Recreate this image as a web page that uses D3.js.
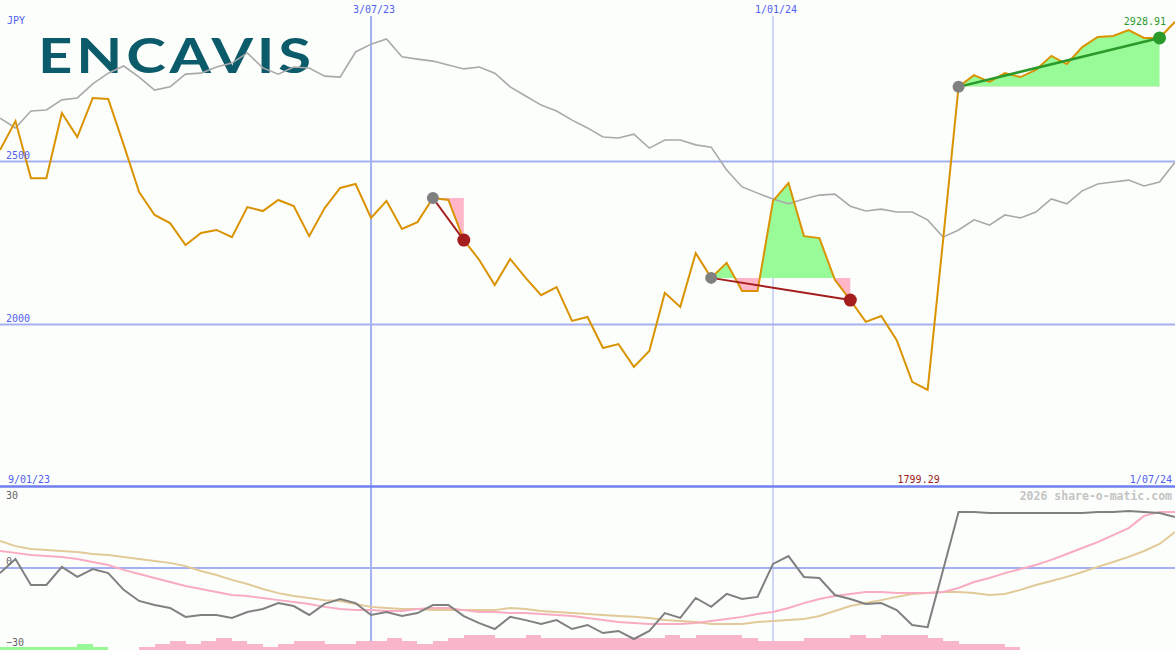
<!DOCTYPE html>
<html>
<head>
<meta charset="utf-8">
<script src="https://cdn.jsdelivr.net/npm/d3@7"></script>
<style>
  body { margin: 0; background: #fcfefc; }
  svg { display: block; }
  text { font-family: "DejaVu Sans Mono", monospace; }
</style>
</head>
<body>
<div id="chart"></div>
<script>
// weekly closes, JPY
const price = [2535, 2624, 2449, 2449, 2649, 2575, 2695, 2692, 2551, 2406,
  2336, 2311, 2244, 2281, 2290, 2268, 2360, 2348, 2382, 2363,
  2271, 2357, 2419, 2431, 2327, 2379, 2293, 2314, 2388, 2382,
  2259, 2198, 2121, 2201, 2143, 2090, 2115, 2011, 2023, 1928,
  1940, 1870, 1919, 2097, 2054, 2219, 2143, 2189, 2103, 2103,
  2379, 2434, 2271, 2265, 2137, 2075, 2008, 2026, 1952, 1824,
  1799.29, 2259, 2729, 2765, 2744, 2771, 2759, 2781, 2824, 2799,
  2851, 2882, 2885, 2903, 2879, 2879, 2928.91];

// comparison index (grey), rebased to price units
const index = [2633, 2603, 2655, 2658, 2689, 2695, 2738, 2771, 2793, 2759,
  2719, 2729, 2768, 2771, 2790, 2802, 2833, 2787, 2768, 2790,
  2787, 2762, 2759, 2836, 2860, 2876, 2821, 2814, 2808, 2796,
  2784, 2790, 2771, 2729, 2701, 2673, 2655, 2627, 2603, 2575,
  2572, 2584, 2541, 2566, 2566, 2551, 2544, 2474, 2422, 2403,
  2385, 2370, 2385, 2397, 2400, 2363, 2348, 2354, 2345, 2345,
  2321, 2268, 2290, 2321, 2305, 2336, 2327, 2345, 2385, 2370,
  2410, 2431, 2437, 2443, 2425, 2437, 2498];

// lower panel
const momentum = [-1.9, 3.3, -6.3, -6.3, 0.4, -3.3, -0.4, -1.9, -8.1, -12.2,
  -13.7, -14.8, -18.1, -17.4, -17.4, -18.5, -16.3, -15.2, -13.0, -14.1,
  -17.4, -13.3, -11.5, -13.0, -17.4, -16.3, -17.8, -16.7, -13.7, -13.7,
  -17.8, -20.4, -22.6, -18.1, -19.3, -20.7, -19.3, -22.6, -21.1, -24.1,
  -23.3, -26.3, -23.3, -16.7, -18.5, -11.1, -14.4, -9.6, -11.5, -10.7,
  1.5, 4.4, -3.3, -3.7, -10.0, -11.5, -13.3, -13.0, -15.6, -21.1,
  -21.9, -0.7, 20.7, 20.7, 20.4, 20.4, 20.4, 20.4, 20.4, 20.4,
  20.4, 20.7, 20.7, 21.1, 20.7, 20.4, 18.9];

const fastAvg = [6.3, 5.6, 4.8, 4.4, 4.1, 3.3, 2.2, 1.1, -0.7, -2.2,
  -3.7, -5.2, -6.7, -7.8, -8.9, -10.0, -10.4, -11.1, -11.9, -12.6,
  -13.3, -14.4, -15.2, -15.6, -15.6, -15.9, -15.9, -15.2, -14.8, -14.8,
  -15.6, -16.3, -16.3, -16.7, -16.7, -17.0, -17.4, -17.8, -18.5, -19.3,
  -20.0, -20.4, -20.7, -20.7, -20.7, -20.4, -19.6, -18.9, -18.1, -17.0,
  -16.3, -14.8, -13.0, -11.5, -10.4, -9.6, -8.9, -8.9, -9.3, -9.3,
  -9.3, -8.9, -7.4, -5.2, -3.7, -1.9, -0.4, 1.1, 3.0, 5.2,
  7.4, 9.6, 12.2, 14.8, 19.3, 20.7, 20.7];

const slowAvg = [10.0, 8.1, 7.0, 6.7, 6.3, 5.9, 5.2, 4.8, 4.1, 3.3,
  2.6, 1.9, 0.7, -1.1, -2.6, -4.4, -5.9, -7.8, -9.3, -10.4,
  -11.1, -11.9, -12.2, -13.3, -14.4, -14.8, -15.2, -15.2, -15.6, -15.6,
  -15.6, -15.6, -15.6, -14.8, -15.2, -15.9, -16.3, -16.7, -17.0, -17.4,
  -17.8, -18.1, -18.5, -19.3, -19.6, -20.0, -20.7, -20.7, -20.7, -20.0,
  -19.6, -19.3, -18.9, -17.8, -15.9, -14.1, -13.0, -11.9, -10.7, -9.6,
  -9.3, -8.9, -8.9, -9.3, -10.0, -9.6, -8.1, -6.3, -4.8, -3.3,
  -1.5, 0.4, 2.2, 4.1, 6.3, 8.9, 13.3];

// histogram at the foot of the lower panel (+ green, - pink)
const histo = [1, 1, 1, 1, 1, 2, 1, 0, 0, -1,
  -2, -3, -2, -3, -4, -3, -2, -1, -2, -3,
  -3, -2, -2, -3, -3, -4, -3, -2, -3, -4,
  -5, -5, -4, -4, -5, -4, -4, -4, -4, -4,
  -4, -4, -4, -5, -4, -5, -5, -5, -4, -3,
  -3, -3, -4, -4, -4, -5, -4, -5, -5, -5,
  -4, -3, -2, -2, -2, -1, 0, 0, 0, 0,
  0, 0, 0, 0, 0, 0, 0];

// trade signals: week index of entry and exit
const signals = [
  {start: 28, end: 30, result: 'loss'},
  {start: 46, end: 55, result: 'loss'},
  {start: 62, end: 75, result: 'gain'}
];

const priceTicks = [2500, 2000];
const oscTicks = [30, 0, -30];
const dateTicks = [new Date(2023, 6, 3), new Date(2024, 0, 1)];

const firstWeek = new Date(2023, 0, 16);
const lastWeek = new Date(2024, 6, 1);

class ShareChart {
  constructor(_config) {
    this.config = {
      parentElement: _config.parentElement,
      containerWidth: 1175,
      containerHeight: 650,
      panelSplit: 486.5
    }
    this.initVis();
  }

  initVis() {
    let vis = this;
    vis.width = vis.config.containerWidth;
    vis.height = vis.config.containerHeight;

    vis.weeks = d3.timeMonday.range(firstWeek, d3.timeDay.offset(lastWeek, 1));
    vis.data = vis.weeks.map((d, i) => ({
      date: d, i: i,
      price: price[i], index: index[i],
      mom: momentum[i], fast: fastAvg[i], slow: slowAvg[i], histo: histo[i]
    }));

    vis.xScale = d3.scaleTime()
      .domain([firstWeek, lastWeek])
      .range([0, vis.width]);

    vis.yScale = d3.scaleLinear()
      .domain([2000, 2500])
      .range([324.5, 161.5]);

    vis.oscScale = d3.scaleLinear()
      .domain([-30, 30])
      .range([649, 487]);

    vis.barScale = d3.scaleLinear()
      .domain([0, 5])
      .range([0, 15]);

    vis.svg = d3.select(vis.config.parentElement)
      .append('svg')
      .attr('width', vis.width)
      .attr('height', vis.height);

    vis.svg.append('rect')
      .attr('width', vis.width)
      .attr('height', vis.height)
      .attr('fill', '#fcfefc');
  }

  renderVis() {
    let vis = this;
    const x = d => vis.xScale(d.date);
    const fmt = d3.timeFormat('%-d/%m/%y');

    // logo
    vis.svg.append('text')
      .attr('x', 38)
      .attr('y', 73)
      .attr('textLength', 277)
      .attr('lengthAdjust', 'spacingAndGlyphs')
      .style('font-family', 'Lato, "Open Sans", sans-serif')
      .style('font-size', '47px')
      .style('font-weight', 700)
      .style('letter-spacing', '3px')
      .attr('fill', '#0c5b6b')
      .text('ENCAVIS');

    // grid
    const grid = vis.svg.append('g').attr('class', 'grid');
    grid.selectAll('line.h')
      .data(priceTicks)
      .join('line')
      .attr('class', 'h')
      .attr('x1', 0).attr('x2', vis.width)
      .attr('y1', d => vis.yScale(d)).attr('y2', d => vis.yScale(d))
      .attr('stroke', '#a4b0f2').attr('stroke-width', 2);

    grid.selectAll('line.v')
      .data(dateTicks)
      .join('line')
      .attr('class', 'v')
      .attr('x1', d => vis.xScale(d)).attr('x2', d => vis.xScale(d))
      .attr('y1', 16).attr('y2', vis.height)
      .attr('stroke', '#a4b0f2')
      .attr('stroke-width', d => d.getMonth() === 0 ? 1 : 2);

    grid.append('line')
      .attr('x1', 0).attr('x2', vis.width)
      .attr('y1', vis.oscScale(0)).attr('y2', vis.oscScale(0))
      .attr('stroke', '#a4b0f2').attr('stroke-width', 2);

    grid.append('line')
      .attr('x1', 0).attr('x2', vis.width)
      .attr('y1', vis.config.panelSplit).attr('y2', vis.config.panelSplit)
      .attr('stroke', '#6f7ff0').attr('stroke-width', 2.5);

    // signal shading between entry level and price
    signals.forEach((s, k) => {
      const seg = vis.data.slice(s.start, s.end + 1);
      const base = vis.yScale(price[s.start]);
      const area = d3.area()
        .x(x)
        .y0(base)
        .y1(d => vis.yScale(d.price));

      const defs = vis.svg.append('defs');
      defs.append('clipPath').attr('id', `above-${k}`)
        .append('rect').attr('x', 0).attr('y', 0)
        .attr('width', vis.width).attr('height', base);
      defs.append('clipPath').attr('id', `below-${k}`)
        .append('rect').attr('x', 0).attr('y', base)
        .attr('width', vis.width).attr('height', vis.config.panelSplit - base);

      vis.svg.append('path')
        .datum(seg)
        .attr('d', area)
        .attr('fill', '#98fb98')
        .attr('clip-path', `url(#above-${k})`);
      vis.svg.append('path')
        .datum(seg)
        .attr('d', area)
        .attr('fill', '#ffb6c8')
        .attr('clip-path', `url(#below-${k})`);
    });

    // comparison index
    vis.svg.append('path')
      .datum(vis.data)
      .attr('d', d3.line().x(x).y(d => vis.yScale(d.index)))
      .attr('fill', 'none')
      .attr('stroke', '#a9a9a9')
      .attr('stroke-width', 1.6);

    // price
    vis.svg.append('path')
      .datum(vis.data)
      .attr('d', d3.line().x(x).y(d => vis.yScale(d.price)))
      .attr('fill', 'none')
      .attr('stroke', '#da9300')
      .attr('stroke-width', 2);

    // signal lines + markers
    const sig = vis.svg.selectAll('g.signal')
      .data(signals)
      .join('g')
      .attr('class', 'signal');

    sig.append('line')
      .attr('x1', d => x(vis.data[d.start]))
      .attr('y1', d => vis.yScale(price[d.start]))
      .attr('x2', d => x(vis.data[d.end]))
      .attr('y2', d => vis.yScale(price[d.end]))
      .attr('stroke', d => d.result === 'gain' ? '#2a9a2a' : '#a51e1e')
      .attr('stroke-width', d => d.result === 'gain' ? 2.5 : 2);

    sig.append('circle')
      .attr('cx', d => x(vis.data[d.start]))
      .attr('cy', d => vis.yScale(price[d.start]))
      .attr('r', 6)
      .attr('fill', '#808080');

    sig.append('circle')
      .attr('cx', d => x(vis.data[d.end]))
      .attr('cy', d => vis.yScale(price[d.end]))
      .attr('r', 6.5)
      .attr('fill', d => d.result === 'gain' ? '#2a9a2a' : '#a51e1e');

    // lower panel: histogram
    vis.svg.append('g')
      .selectAll('rect')
      .data(vis.data.filter(d => d.histo !== 0))
      .join('rect')
      .attr('x', x)
      .attr('width', d => vis.xScale(d3.timeDay.offset(d.date, 7)) - x(d))
      .attr('y', d => vis.height - vis.barScale(Math.abs(d.histo)))
      .attr('height', d => vis.barScale(Math.abs(d.histo)))
      .attr('fill', d => d.histo > 0 ? '#98f898' : '#f9b6ca')
      .attr('shape-rendering', 'crispEdges');

    const oscLine = key => d3.line().x(x).y(d => vis.oscScale(d[key]));
    [['slow', '#e2c998'], ['fast', '#f9abc2'], ['mom', '#808080']].forEach(([key, col]) => {
      vis.svg.append('path')
        .datum(vis.data)
        .attr('d', oscLine(key))
        .attr('fill', 'none')
        .attr('stroke', col)
        .attr('stroke-width', 2);
    });

    // labels
    const blue = '#5060f0';
    vis.svg.append('text')
      .attr('x', 7).attr('y', 24)
      .attr('fill', blue).style('font-size', '10px')
      .text('JPY');

    vis.svg.selectAll('text.ptick')
      .data(priceTicks)
      .join('text')
      .attr('class', 'ptick')
      .attr('x', 6)
      .attr('y', d => vis.yScale(d) - 3)
      .attr('fill', blue).style('font-size', '10px')
      .text(d => d);

    vis.svg.selectAll('text.dtick')
      .data(dateTicks)
      .join('text')
      .attr('class', 'dtick')
      .attr('x', d => vis.xScale(d) + 3)
      .attr('y', 13)
      .attr('text-anchor', 'middle')
      .attr('fill', blue).style('font-size', '10px')
      .text(d => fmt(d));

    vis.svg.selectAll('text.otick')
      .data(oscTicks)
      .join('text')
      .attr('class', 'otick')
      .attr('x', 6)
      .attr('y', d => d === 30 ? vis.oscScale(d) + 12 : vis.oscScale(d) - 3)
      .attr('fill', '#666').style('font-size', '10px')
      .text(d => d === -30 ? '\u221230' : d);

    vis.svg.append('text')
      .attr('x', 8).attr('y', 483)
      .attr('fill', blue).style('font-size', '10px')
      .text('9/01/23');

    vis.svg.append('text')
      .attr('x', 1172).attr('y', 483)
      .attr('text-anchor', 'end')
      .attr('fill', blue).style('font-size', '10px')
      .text(fmt(lastWeek));

    const minD = vis.data[d3.minIndex(vis.data, d => d.price)];
    const maxD = vis.data[d3.maxIndex(vis.data, d => d.price)];

    vis.svg.append('text')
      .attr('x', x(minD) - 9).attr('y', 483)
      .attr('text-anchor', 'middle')
      .attr('fill', '#a01c1c').style('font-size', '10px')
      .text(d3.format('.2f')(minD.price));

    vis.svg.append('text')
      .attr('x', x(maxD) - 9).attr('y', 25)
      .attr('text-anchor', 'end')
      .attr('fill', '#2a9a2a').style('font-size', '10px')
      .text(d3.format('.2f')(maxD.price));

    vis.svg.append('text')
      .attr('x', 1172).attr('y', 500)
      .attr('text-anchor', 'end')
      .attr('fill', '#c4c4c4')
      .style('font-size', '11.5px')
      .style('font-weight', 'bold')
      .text('2026 share-o-matic.com');
  }
}

const chart = new ShareChart({parentElement: '#chart'});
chart.renderVis();
</script>
</body>
</html>
